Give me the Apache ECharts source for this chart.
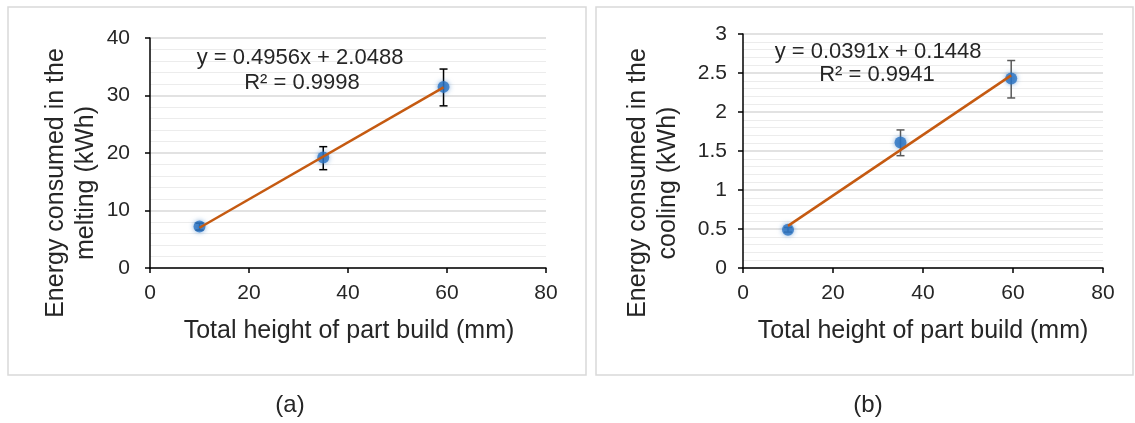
<!DOCTYPE html>
<html>
<head>
<meta charset="utf-8">
<script src="https://cdn.jsdelivr.net/npm/echarts@6/dist/echarts.min.js"></script>
<style>
  html, body { margin: 0; padding: 0; background: #fff; }
  #chart { width: 1135px; height: 423px; }
</style>
</head>
<body>
<div id="chart"></div>
<script>
// panel (a): melting
const meltX = [10, 35, 59.3]
const meltY = [7.2, 19.2, 31.5]
const meltErrLow = [6.6, 17.1, 28.2]
const meltErrHigh = [7.8, 21.1, 34.6]
const meltTrend = [[10, 7.0], [59.3, 31.4]]

// panel (b): cooling
const coolX = [10, 35, 59.6]
const coolY = [0.49, 1.61, 2.43]
const coolErrLow = [0.46, 1.44, 2.18]
const coolErrHigh = [0.52, 1.77, 2.66]
const coolTrend = [[10, 0.54], [59.6, 2.47]]

const xTicks = [0, 20, 40, 60, 80]
const meltYMax = 40
const coolYMax = 3

const font = 'Liberation Sans, Arial, sans-serif'
const txt = '#262626'

const chart = echarts.init(document.getElementById('chart'))

function xAxisCfg(gi) {
  return {
    type: 'value', gridIndex: gi, min: xTicks[0], max: xTicks[xTicks.length - 1], interval: 20,
    axisLine: { show: true, onZero: false, lineStyle: { color: '#000', width: 1.5 } },
    axisTick: { show: true, length: 5, lineStyle: { color: '#000', width: 1.5 } },
    axisLabel: { fontSize: 21, color: txt, fontFamily: font, margin: 15 },
    splitLine: { show: false },
  }
}

function yAxisCfg(gi, max, step, margin) {
  return {
    type: 'value', gridIndex: gi, min: 0, max: max, interval: step,
    axisLine: { show: true, lineStyle: { color: '#000', width: 1.5 } },
    axisTick: { show: true, length: 5, lineStyle: { color: '#000', width: 1.5 } },
    axisLabel: { fontSize: 21, color: txt, fontFamily: font, margin: margin },
    splitLine: { show: true, lineStyle: { color: '#d9d9d9', width: 1.5 } },
    minorTick: { show: false, splitNumber: 5 },
    minorSplitLine: { show: true, lineStyle: { color: '#ececec', width: 1 } },
  }
}

function errSeries(gi, xs, lo, hi, color) {
  return {
    type: 'custom', xAxisIndex: gi, yAxisIndex: gi, z: 2,
    data: xs.map((x, i) => [x, lo[i], hi[i]]),
    renderItem: (params, api) => {
      const a = api.coord([api.value(0), api.value(1)])
      const b = api.coord([api.value(0), api.value(2)])
      const w = 4
      const st = { stroke: color, lineWidth: 1.5 }
      return {
        type: 'group',
        children: [
          { type: 'line', shape: { x1: a[0], y1: a[1], x2: b[0], y2: b[1] }, style: st },
          { type: 'line', shape: { x1: a[0] - w, y1: a[1], x2: a[0] + w, y2: a[1] }, style: st },
          { type: 'line', shape: { x1: b[0] - w, y1: b[1], x2: b[0] + w, y2: b[1] }, style: st },
        ],
      }
    },
  }
}

function pointSeries(gi, xs, ys) {
  return {
    type: 'scatter', xAxisIndex: gi, yAxisIndex: gi, z: 3,
    data: xs.map((x, i) => [x, ys[i]]),
    symbolSize: 12,
    itemStyle: { color: '#2b73c2', shadowBlur: 5, shadowColor: 'rgba(43,115,194,0.7)' },
  }
}

function trendSeries(gi, pts) {
  return {
    type: 'line', xAxisIndex: gi, yAxisIndex: gi, z: 4,
    data: pts, symbol: 'none',
    lineStyle: { color: '#c55a11', width: 2.5 },
  }
}

function text(x, y, s, size, rot) {
  return {
    type: 'text', x: x, y: y, rotation: rot || 0, z: 100,
    style: { text: s, fontSize: size, fontFamily: font, fill: txt, align: 'center', verticalAlign: 'middle' },
  }
}

chart.setOption({
  animation: false,
  grid: [
    { left: 150, top: 38, width: 396, height: 230 },
    { left: 743, top: 34, width: 360, height: 234 },
  ],
  xAxis: [xAxisCfg(0), xAxisCfg(1)],
  yAxis: [yAxisCfg(0, meltYMax, 10, 20), yAxisCfg(1, coolYMax, 0.5, 16)],
  series: [
    errSeries(0, meltX, meltErrLow, meltErrHigh, '#000'),
    pointSeries(0, meltX, meltY),
    trendSeries(0, meltTrend),
    errSeries(1, coolX, coolErrLow, coolErrHigh, '#595959'),
    pointSeries(1, coolX, coolY),
    trendSeries(1, coolTrend),
  ],
  graphic: [
    { type: 'rect', shape: { x: 8, y: 7, width: 578, height: 368 }, style: { fill: 'none', stroke: '#d9d9d9', lineWidth: 1.5 }, z: -1 },
    { type: 'rect', shape: { x: 596, y: 7, width: 537, height: 368 }, style: { fill: 'none', stroke: '#d9d9d9', lineWidth: 1.5 }, z: -1 },
    text(300, 58, 'y = 0.4956x + 2.0488', 22),
    text(302, 83, 'R² = 0.9998', 22),
    text(878, 52, 'y = 0.0391x + 0.1448', 22),
    text(877, 75, 'R² = 0.9941', 22),
    text(349, 331, 'Total height of part build (mm)', 25),
    text(923, 331, 'Total height of part build (mm)', 25),
    text(56, 183, 'Energy consumed in the', 25, Math.PI / 2),
    text(86, 183, 'melting (kWh)', 25, Math.PI / 2),
    text(638, 183, 'Energy consumed in the', 25, Math.PI / 2),
    text(668, 183, 'cooling (kWh)', 25, Math.PI / 2),
    text(290, 405, '(a)', 24),
    text(868, 405, '(b)', 24),
  ],
})
</script>
</body>
</html>
